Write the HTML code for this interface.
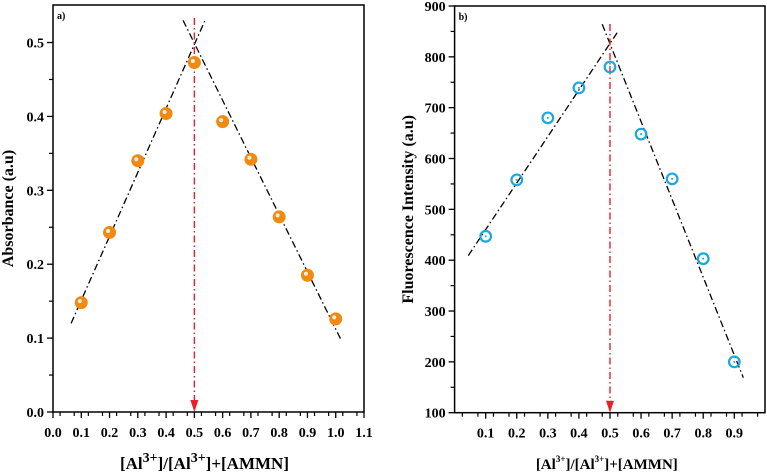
<!DOCTYPE html>
<html><head><meta charset="utf-8"><style>
html,body{margin:0;padding:0;background:#fff;}
svg{display:block;font-family:"Liberation Serif",serif;font-weight:bold;}
</style></head><body>
<svg id="chart" width="767" height="474" viewBox="0 0 767 474" xmlns="http://www.w3.org/2000/svg"></svg>
<script>
// Panel a data
const absX = [0.1,0.2,0.3,0.4,0.5,0.6,0.7,0.8,0.9,1.0];
const absY = [0.148,0.243,0.340,0.404,0.473,0.393,0.342,0.264,0.185,0.126];
const absFitUp = [[0.064,0.12],[0.54,0.532]];
const absFitDown = [[0.46,0.53],[1.021,0.096]];
const absXTicks = [0,0.1,0.2,0.3,0.4,0.5,0.6,0.7,0.8,0.9,1.0,1.1];
const absYTicks = [0,0.1,0.2,0.3,0.4,0.5];
// Panel b data
const flX = [0.1,0.2,0.3,0.4,0.5,0.6,0.7,0.8,0.9];
const flY = [447,558,680,739,780,648,560,403,200];
const flFitUp = [[0.044,409],[0.527,851]];
const flFitDown = [[0.475,864],[0.929,169]];
const flXTicks = [0.1,0.2,0.3,0.4,0.5,0.6,0.7,0.8,0.9];
const flYTicks = [100,200,300,400,500,600,700,800,900];

const NS="http://www.w3.org/2000/svg";
const svg=document.getElementById('chart');
function mk(tag,attrs,parent){const e=document.createElementNS(NS,tag);for(const k in attrs)e.setAttribute(k,attrs[k]);(parent||svg).appendChild(e);return e;}

function panel(o){
  const g=mk('g',{});
  
  
  const sx=v=>o.x0+(v-o.xmin)/(o.xmax-o.xmin)*(o.x1-o.x0);
  const sy=v=>o.y1-(v-o.ymin)/(o.ymax-o.ymin)*(o.y1-o.y0);
  const frame=mk('rect',{x:o.x0,y:o.y0,width:o.x1-o.x0,height:o.y1-o.y0,fill:'none',stroke:'#000','stroke-width':1.5},g);
  
  
  o.xTicks.forEach(t=>{
    const x=sx(t);
    mk('line',{x1:x,x2:x,y1:o.y1,y2:o.y1+6,stroke:'#000','stroke-width':1.3},g);
    const tx=mk('text',{x:x,y:o.y1+25,'text-anchor':'middle','font-size':14},g);
    tx.textContent=t.toFixed(1);
    
    
  });
  for(let v=o.xmin+o.xminor/2; v<o.xmax; v+=o.xminor){
    if(Math.abs((v/o.xminor)%1-0.5)<0.01){const x=sx(v);mk('line',{x1:x,x2:x,y1:o.y1,y2:o.y1+4,stroke:'#000','stroke-width':1.2},g);}
  }
  o.yTicks.forEach(t=>{
    const y=sy(t);
    mk('line',{x1:o.x0-6,x2:o.x0,y1:y,y2:y,stroke:'#000','stroke-width':1.3},g);
    const tx=mk('text',{x:o.x0-9,y:y+5,'text-anchor':'end','font-size':14},g);
    tx.textContent=o.yFmt(t);
    
    
  });
  for(let i=0;i<o.yTicks.length-1;i++){const v=(o.yTicks[i]+o.yTicks[i+1])/2;const y=sy(v);mk('line',{x1:o.x0-4,x2:o.x0,y1:y,y2:y,stroke:'#000','stroke-width':1.2},g);}
  [o.fitUp,o.fitDown].forEach((f,i)=>{
    const l=mk('line',{x1:sx(f[0][0]),y1:sy(f[0][1]),x2:sx(f[1][0]),y2:sy(f[1][1]),stroke:'#000','stroke-width':1.3,'stroke-dasharray':'7,3,1.5,3'},g);
    
    
  });
  const ax=sx(0.5);
  const rl=mk('line',{x1:ax,y1:o.arrowTop,x2:ax,y2:o.y1-10,stroke:'#e8202a','stroke-width':1.4,'stroke-dasharray':'7,3,1.5,3'},g);
  
  
  const ah=mk('polygon',{points:`${ax-4},${o.y1-12} ${ax+4},${o.y1-12} ${ax},${o.y1}`,fill:'#e8202a'},g);
  
  
  o.xs.forEach((xv,i)=>{
    const cx=sx(xv),cy=sy(o.ys[i]);
    if(o.style==='orange'){
      const c=mk('circle',{cx:cx,cy:cy,r:6.5,fill:'#f08a12'},g);
      
      
      mk('circle',{cx:cx-1.5,cy:cy-1.5,r:2,fill:'#fff','fill-opacity':0.85},g);
    }else{
      const c=mk('circle',{cx:cx,cy:cy,r:5.3,fill:'none',stroke:'#1aa8dc','stroke-width':2.2},g);
      
      
      mk('circle',{cx:cx,cy:cy,r:1,fill:'#1aa8dc'},g);
    }
  });
  const pl=mk('text',{x:o.x0+4,y:o.y0+14,'font-size':10},g);
  pl.textContent=o.label;
  
  
  const yt=mk('text',{x:0,y:0,'text-anchor':'middle','font-size':16,transform:`translate(${o.yTitleX},${(o.y0+o.y1)/2}) rotate(-90)`},g);
  yt.textContent=o.yTitle;
  
  
  const xt=mk('text',{x:(o.x0+o.x1)/2+o.xTitleDx,y:469,'text-anchor':'middle','font-size':o.xTitleSize},g);
  
  
  xt.innerHTML=`[Al<tspan dy="-7" font-size="${o.supSize}">3+</tspan><tspan dy="7">]/[Al</tspan><tspan dy="-7" font-size="${o.supSize}">3+</tspan><tspan dy="7">]+[AMMN]</tspan>`;
}

panel({name:'panel-a-absorbance',x0:53,x1:364,y0:5,y1:412,xmin:0,xmax:1.1,ymin:0,ymax:0.5508,
  xTicks:absXTicks,yTicks:absYTicks,xminor:0.05,yFmt:t=>t.toFixed(1),
  xs:absX,ys:absY,fitUp:absFitUp,fitDown:absFitDown,style:'orange',arrowTop:18,
  label:'a)',yTitle:'Absorbance (a.u)',yTitleX:13,xTitleDx:-4,xTitleSize:17,supSize:14});
panel({name:'panel-b-fluorescence',x0:454.6,x1:765,y0:6,y1:412.7,xmin:0,xmax:0.9988,ymin:100,ymax:900,
  xTicks:flXTicks,yTicks:flYTicks,xminor:0.05,yFmt:t=>String(t),
  xs:flX,ys:flY,fitUp:flFitUp,fitDown:flFitDown,style:'blue',arrowTop:24,
  label:'b)',yTitle:'Fluorescence Intensity (a.u)',yTitleX:413,xTitleDx:-3,xTitleSize:15,supSize:9});
</script>
</body></html>
